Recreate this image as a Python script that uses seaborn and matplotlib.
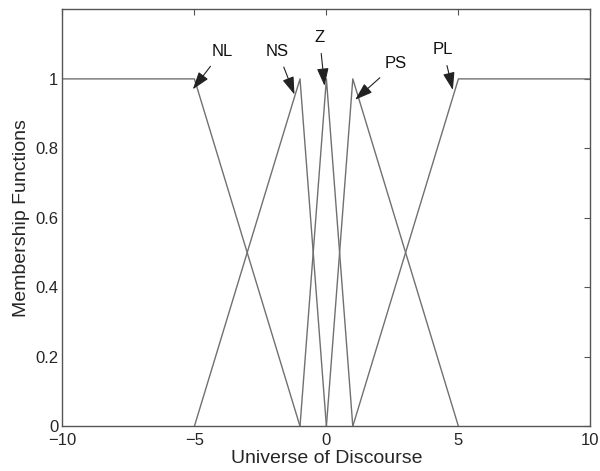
import matplotlib
matplotlib.use("Agg")
import matplotlib.pyplot as plt
import seaborn as sns
import pandas as pd

sns.set_style("white")
plt.rcParams['font.family'] = ['Liberation Sans', 'DejaVu Sans']

# Membership function breakpoints
nl_x = [-10, -5, -1]
nl_y = [1, 1, 0]
ns_x = [-5, -1, 0]
ns_y = [0, 1, 0]
z_x = [-1, 0, 1]
z_y = [0, 1, 0]
ps_x = [0, 1, 5]
ps_y = [0, 1, 0]
pl_x = [1, 5, 10]
pl_y = [0, 1, 1]

labels = ["NL", "NS", "Z", "PS", "PL"]
label_pos = [(-3.95, 1.08), (-1.85, 1.08), (-0.26, 1.12), (2.64, 1.045), (4.42, 1.085)]
arrow_tips = [(-5.06, 0.97), (-1.21, 0.955), (-0.07, 0.98), (1.09, 0.94), (4.79, 0.968)]

rows = []
for name, xs, ys in zip(labels, [nl_x, ns_x, z_x, ps_x, pl_x], [nl_y, ns_y, z_y, ps_y, pl_y]):
    for i, (a, b) in enumerate(zip(xs, ys)):
        rows.append({"mf": name, "x": a, "y": b, "order": i})
df = pd.DataFrame(rows)

fig = plt.figure(figsize=(6, 4.71), dpi=100)
ax = fig.add_axes([0.104, 0.095, 0.880, 0.885])

for name in labels:
    sub = df[df.mf == name]
    sns.lineplot(data=sub, x="x", y="y", sort=False, estimator=None,
                 color="#707070", linewidth=1.0, ax=ax)

for lab, (tx, ty), (ax_, ay) in zip(labels, label_pos, arrow_tips):
    ax.annotate(lab, xy=(ax_, ay), xytext=(tx, ty), ha="center", va="center",
                fontsize=12, color="#111111",
                arrowprops=dict(arrowstyle="-|>,head_length=0.9,head_width=0.3",
                                color="#222222", lw=0.8, shrinkA=4, shrinkB=0))

ax.set_xlim(-10, 10)
ax.set_ylim(0, 1.2)
ax.set_xticks([-10, -5, 0, 5, 10])
ax.set_yticks([0, 0.2, 0.4, 0.6, 0.8, 1])
ax.set_yticklabels(["0", "0.2", "0.4", "0.6", "0.8", "1"])
ax.tick_params(direction="in", length=4, top=True, right=True, labelsize=12,
               color="#555555", width=0.8)
ax.tick_params(axis="x", pad=5)
ax.tick_params(axis="y", pad=3)
for s in ax.spines.values():
    s.set_color("#555555")
    s.set_linewidth(1.0)
ax.set_xlabel("Universe of Discourse", fontsize=14, labelpad=1)
ax.set_ylabel("Membership Functions", fontsize=14, labelpad=4)

fig.savefig("out.png", dpi=100)
